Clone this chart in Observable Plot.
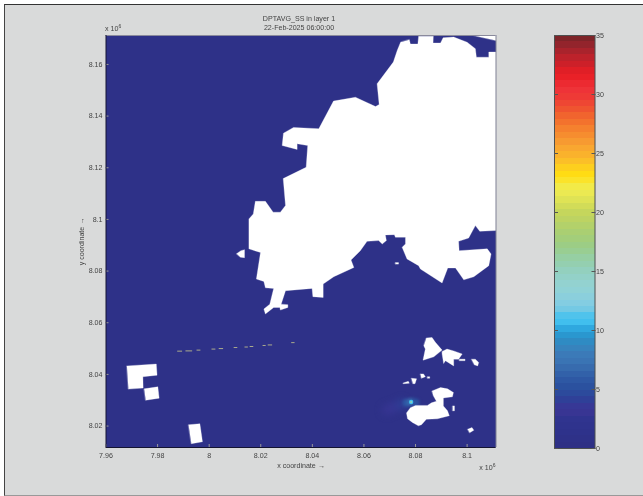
<!DOCTYPE html>
<html><head><meta charset="utf-8">
<script src="https://cdn.jsdelivr.net/npm/d3@7"></script>
<script src="https://cdn.jsdelivr.net/npm/@observablehq/plot@0.6"></script>
<style>
html,body{margin:0;padding:0;background:#fff;overflow:hidden}
#page{position:relative;width:643px;height:496px;font-family:"Liberation Sans",Arial,sans-serif;color:#444}
#panel{position:absolute;left:4px;top:4px;right:0;bottom:0;background:#d9dada;border-left:1.5px solid #444;border-top:1.5px solid #333;border-bottom:1px solid #999;box-sizing:border-box}
#map,#bar{position:absolute;left:0;top:0}
#map svg,#bar svg{display:block;filter:blur(.3px)}
.t{position:absolute;font-size:7.1px;line-height:8.5px;white-space:nowrap;filter:blur(.2px)}
.t sup{font-size:5px;line-height:0;vertical-align:3px}
</style></head><body>
<div id="page"><div id="panel"></div><div id="map"></div><div id="bar"></div>
<div class="t" style="left:199px;width:200px;text-align:center;top:15px">DPTAVG_SS in layer 1<br>22-Feb-2025 06:00:00</div>
<div class="t" style="left:105px;top:25px">x 10<sup>6</sup></div>
<div class="t" style="left:475px;width:20.5px;text-align:right;top:464px">x 10<sup>6</sup></div>
</div>
<script>
const xDomain=[7.96,8.1112], yDomain=[8.0117,8.1712];
const xTicks=[7.96,7.98,8,8.02,8.04,8.06,8.08,8.1];
const yTicks=[8.02,8.04,8.06,8.08,8.1,8.12,8.14,8.16];
const barTicks=[0,5,10,15,20,25,30,35];

const mainland=[[8.0776,8.1696],[8.0780,8.1679],[8.0809,8.1679],[8.0812,8.1709],[8.0869,8.1709],[8.0868,8.1683],[8.0897,8.1683],[8.0907,8.1703],[8.0948,8.1706],[8.1000,8.1686],[8.1032,8.1661],[8.1036,8.1628],[8.1084,8.1628],[8.1084,8.1648],[8.1112,8.1648],[8.1112,8.0957],[8.1049,8.0954],[8.1032,8.0976],[8.1006,8.0928],[8.0967,8.0915],[8.0969,8.0879],[8.1078,8.0886],[8.1093,8.0866],[8.1084,8.0821],[8.1026,8.0778],[8.0987,8.0766],[8.0955,8.0812],[8.0925,8.0812],[8.0903,8.0754],[8.0819,8.0808],[8.0812,8.0821],[8.0767,8.0847],[8.0748,8.0892],[8.0761,8.0905],[8.0761,8.0931],[8.0722,8.0931],[8.0718,8.0941],[8.0683,8.0940],[8.0687,8.0918],[8.0671,8.0905],[8.0657,8.0918],[8.0612,8.0915],[8.0586,8.0879],[8.0550,8.0843],[8.0561,8.0814],[8.0483,8.0778],[8.0442,8.0750],[8.0442,8.0698],[8.0402,8.0701],[8.0399,8.0733],[8.0296,8.0724],[8.0279,8.0672],[8.0305,8.0670],[8.0305,8.0659],[8.0276,8.0649],[8.0274,8.0659],[8.0250,8.0659],[8.0218,8.0634],[8.0212,8.0653],[8.0235,8.0672],[8.0250,8.0733],[8.0218,8.0735],[8.0212,8.0760],[8.0183,8.0769],[8.0199,8.0872],[8.0154,8.0886],[8.0154,8.1002],[8.0171,8.1021],[8.0179,8.1070],[8.0218,8.1070],[8.0248,8.1028],[8.0276,8.1028],[8.0296,8.1054],[8.0287,8.1158],[8.0376,8.1202],[8.0382,8.1286],[8.0341,8.1293],[8.0341,8.1271],[8.0283,8.1286],[8.0288,8.1334],[8.0327,8.1356],[8.0425,8.1351],[8.0482,8.1458],[8.0567,8.1473],[8.0645,8.1437],[8.0659,8.1445],[8.0651,8.1525],[8.0714,8.1609],[8.0729,8.1654],[8.0742,8.1686]];
const cornerNE=[[8.1024,8.1712],[8.1112,8.1712],[8.1112,8.1693]];
const westIslet=[[8.0106,8.0867],[8.0123,8.0879],[8.0137,8.0883],[8.0137,8.0852],[8.0121,8.0854]];
const bayIslet=[[8.0722,8.0833],[8.0734,8.0833],[8.0734,8.0827],[8.0722,8.0827]];
const blockL=[[7.9681,8.0433],[7.9795,8.0440],[7.9798,8.0397],[7.9743,8.0391],[7.9744,8.0347],[7.9687,8.0343]];
const blockSquare=[[7.9748,8.0344],[7.9801,8.0352],[7.9806,8.0308],[7.9754,8.0300]];
const blockSouth=[[7.9920,8.0205],[7.9964,8.0209],[7.9974,8.0139],[7.9931,8.0132]];
const islandA=[[8.0842,8.0541],[8.0864,8.0543],[8.0877,8.0524],[8.0903,8.0494],[8.0871,8.0468],[8.0829,8.0455],[8.0838,8.0498],[8.0832,8.0511]];
const islandB=[[8.0903,8.0489],[8.0922,8.0498],[8.0948,8.0491],[8.0981,8.0479],[8.0967,8.0459],[8.0948,8.0459],[8.0948,8.0433],[8.0916,8.0453],[8.0909,8.0442],[8.0903,8.0479]];
const islandBit=[[8.0970,8.0459],[8.0992,8.0459],[8.0992,8.0453],[8.0970,8.0453]];
const islandC=[[8.1017,8.0459],[8.1032,8.0459],[8.1045,8.0446],[8.1041,8.0433],[8.1028,8.0437]];
const islet1=[[8.0819,8.0402],[8.0831,8.0402],[8.0838,8.0391],[8.0823,8.0385]];
const islet2=[[8.0846,8.0391],[8.0855,8.0391],[8.0855,8.0385],[8.0846,8.0385]];
const islet3=[[8.0784,8.0385],[8.0804,8.0383],[8.0798,8.0364],[8.0790,8.0364]];
const islet4=[[8.0752,8.0367],[8.0772,8.0373],[8.0776,8.0366],[8.0753,8.0364]];
const islandD=[[8.0864,8.0336],[8.0897,8.0349],[8.0924,8.0344],[8.0947,8.0330],[8.0943,8.0313],[8.0908,8.0309],[8.0908,8.0278],[8.0924,8.0259],[8.0931,8.0240],[8.0885,8.0228],[8.0842,8.0226],[8.0823,8.0205],[8.0811,8.0201],[8.0788,8.0214],[8.0769,8.0228],[8.0765,8.0251],[8.0780,8.0271],[8.0800,8.0280],[8.0846,8.0280],[8.0862,8.0290],[8.0881,8.0296],[8.0869,8.0317]];
const sliver=[[8.0944,8.0278],[8.0951,8.0278],[8.0951,8.0259],[8.0944,8.0259]];
const isletSouth=[[8.1002,8.0188],[8.1019,8.0194],[8.1026,8.0184],[8.1010,8.0174]];
const land=[mainland,cornerNE,westIslet,bayIslet,blockL,blockSquare,blockSouth,islandA,islandB,islandBit,islandC,islet1,islet2,islet3,islet4,islandD,sliver,isletSouth];

const dashX1=[7.9876,7.9908,7.9951,8.0009,8.0037,8.0095,8.0137,8.0157,8.0207,8.0227,8.0318];
const dashX2=[7.9895,7.9934,7.9966,8.0024,8.0054,8.0109,8.0150,8.0171,8.0219,8.0244,8.0331];
const dashY=[8.0490,8.0491,8.0494,8.0498,8.0500,8.0504,8.0506,8.0508,8.0512,8.0514,8.0523];

const plumeTail=[{x:8.0690,y:8.0262,v:3},{x:8.0715,y:8.0272,v:3.6},{x:8.0745,y:8.0284,v:4.1}];
const plumeMid=[{x:8.0765,y:8.0290,v:5.7},{x:8.0783,y:8.0293,v:6.8},{x:8.0800,y:8.0291,v:5.2}];
const plumeCore=[{x:8.0783,y:8.0293,v:10.7}];
const plumePeak=[{x:8.0783,y:8.0293,v:15.6}];

const colormap=["#2e3085","#2e3188","#2e328b","#2f338d","#30348f","#383593","#373896","#2f4098","#2c4a9c","#2b519f","#2e58a4","#3261a9","#376bae","#3a74b4","#3b7ab8","#3783bd","#2f8bc3","#2a97cf","#2fa8df","#41bfee","#50c3ec","#74c9e4","#83cde2","#8bcfdc","#90d2d6","#93d2d0","#93d1c8","#93d0be","#94cfb0","#96cfa3","#99ce92","#9ccd85","#a3ce7a","#aacf72","#b3d16a","#bdd362","#c5d65c","#d2dc58","#dfe355","#ebe952","#f2ea48","#fbe32a","#ffdc14","#fdcf1e","#fbbf28","#fab22c","#f9a730","#f79a31","#f68d2f","#f5812e","#f3722d","#f1642e","#ef5430","#ee4633","#ee3a36","#ee3338","#ec2a31","#e92127","#e01f26","#cd2029","#bd222b","#a9232c","#93242c","#7e2429"];
const step=35/colormap.length;
const color={type:"threshold",domain:colormap.slice(1).map((_,i)=>(i+1)*step),range:colormap};
const bands=colormap.map((_,i)=>({lo:i*step,hi:(i+1)*step,v:(i+.5)*step}));

const landRows=land.flatMap((poly,id)=>poly.map(([x,y])=>({id,x,y})));
const dashes=dashX1.map((x1,i)=>({x1,x2:dashX2[i],y:dashY[i]}));
const style={fontFamily:"'Liberation Sans',Arial,sans-serif",fontSize:"7.1px",background:"transparent",color:"#444",overflow:"visible"};

const map=Plot.plot({
  width:643,height:496,
  marginLeft:105.5,marginRight:147.5,marginTop:35,marginBottom:49,
  style,
  x:{domain:xDomain},y:{domain:yDomain},color,
  marks:[
    Plot.frame({fill:colormap[1],stroke:null}),
    Plot.dot(plumeTail,{x:"x",y:"y",r:6,fill:"v",imageFilter:"blur(3px)",fillOpacity:.7}),
    Plot.dot(plumeMid,{x:"x",y:"y",r:4,fill:"v",imageFilter:"blur(1.5px)"}),
    Plot.dot(plumeCore,{x:"x",y:"y",r:2.2,fill:"v",imageFilter:"blur(.5px)"}),
    Plot.dot(plumePeak,{x:"x",y:"y",r:1,fill:"v"}),
    Plot.line(landRows,{x:"x",y:"y",z:"id",curve:"linear-closed",fill:"#fff",stroke:"#fff",strokeWidth:.3}),
    Plot.ruleX([xDomain[1]],{stroke:"#7d7f92",strokeWidth:1}),
    Plot.ruleY([yDomain[1]],{stroke:"#8a8a9c",strokeWidth:1}),
    Plot.link(dashes,{x1:"x1",x2:"x2",y1:"y",y2:"y",stroke:"#b9b98c",strokeWidth:.9}),
    Plot.axisX({ticks:xTicks,tickFormat:d=>String(d),tickSize:-3,tickPadding:8,stroke:"#999",label:"x coordinate →",labelAnchor:"center",labelArrow:"none",labelOffset:20}),
    Plot.axisY({ticks:yTicks,tickFormat:d=>String(d),tickSize:-3,tickPadding:6.5,stroke:"#999",label:"y coordinate →",labelAnchor:"center",labelArrow:"none",labelOffset:27}),
    Plot.ruleX([xDomain[0]],{stroke:"#141432",strokeWidth:1}),
    Plot.ruleY([yDomain[0]],{stroke:"#141432",strokeWidth:1})
  ]
});
document.getElementById("map").append(map);

const bar=Plot.plot({
  width:643,height:496,
  marginLeft:554,marginRight:48.5,marginTop:35,marginBottom:48,
  style,
  x:{domain:[0,1],axis:null},y:{domain:[0,35]},color,
  marks:[
    Plot.rect(bands,{x1:()=>0,x2:()=>1,y1:"lo",y2:"hi",fill:"v",inset:0,shapeRendering:"crispEdges"}),
    Plot.frame({stroke:"#4d5050",strokeWidth:1}),
    Plot.axisY({anchor:"right",ticks:barTicks,tickSize:-4,tickPadding:5,stroke:"#555",label:null}),
    Plot.axisY({anchor:"left",ticks:barTicks,tickSize:-4,tickFormat:()=>"",stroke:"#555",label:null})
  ]
});
document.getElementById("bar").append(bar);
</script></body></html>
